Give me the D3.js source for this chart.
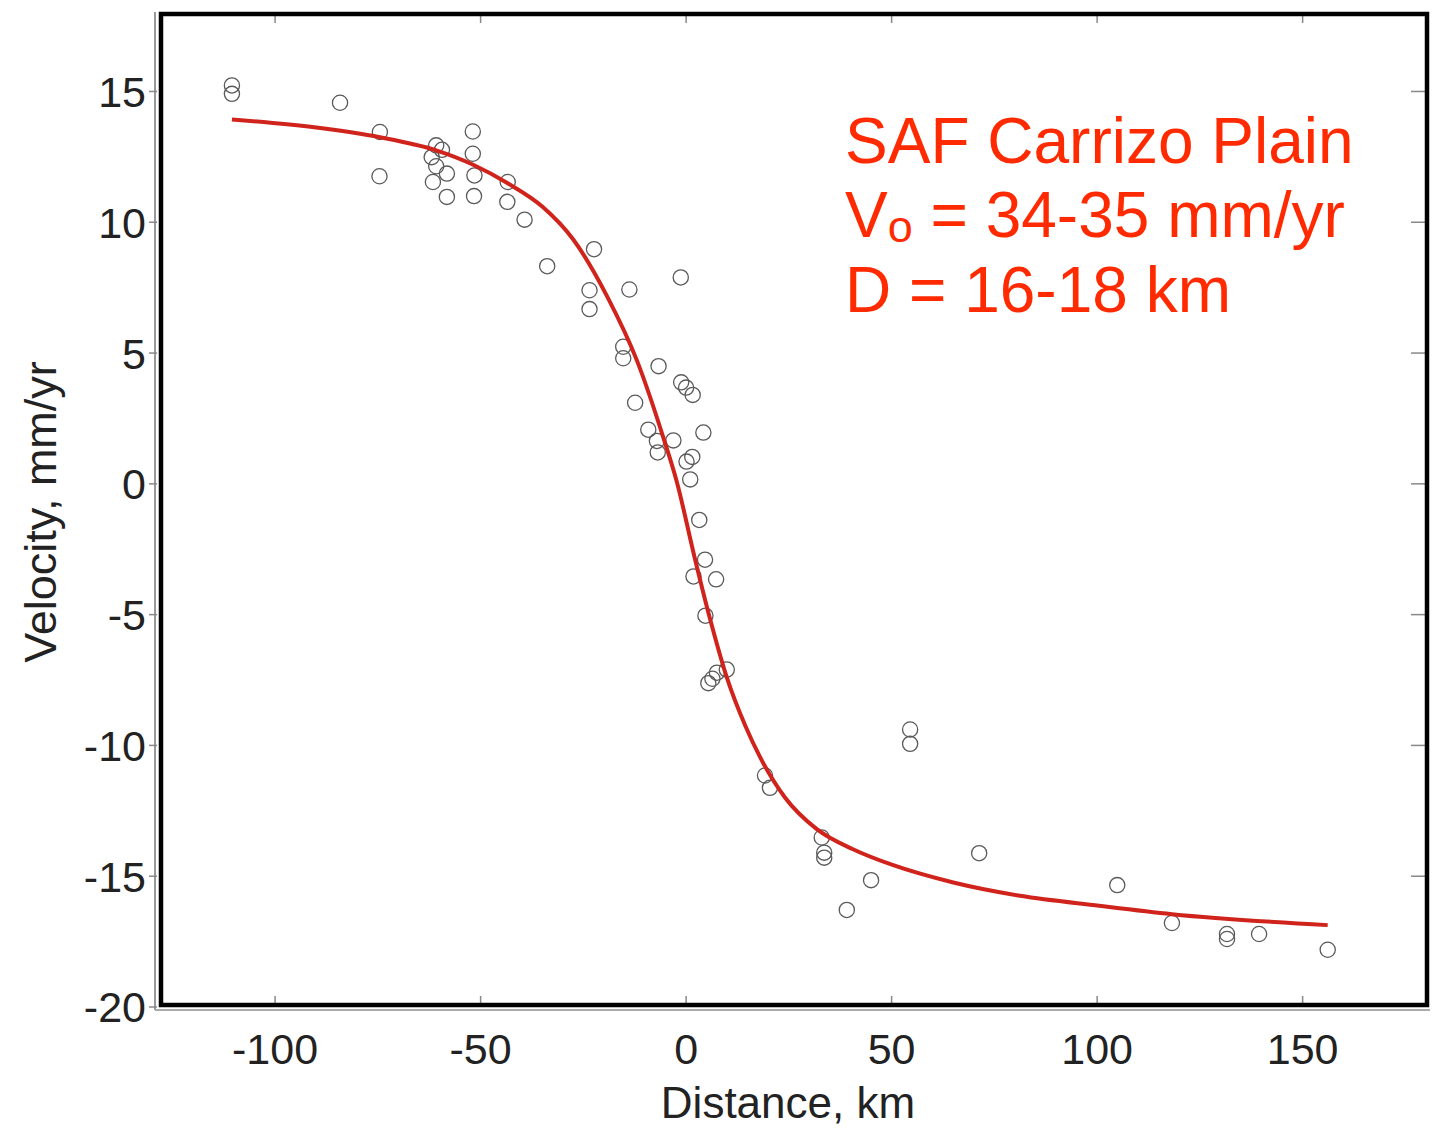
<!DOCTYPE html>
<html lang="en">
<head>
<meta charset="UTF-8">
<title>SAF Carrizo Plain velocity profile</title>
<script src="https://cdn.jsdelivr.net/npm/d3@7"></script>
<style>
  body { margin: 0; background: #fff; }
  svg text { font-family: "Liberation Sans", Arial, Helvetica, sans-serif; }
</style>
</head>
<body>
<div id="chart"></div>
<script>
// observed GPS velocities (distance from fault, km / velocity, mm/yr)
var distance = [-110.5, -110.5, -84.2, -74.5, -74.6, -60.8, -59.4, -61.9, -60.8, -58.2,
  -61.6, -58.2, -51.9, -51.9, -51.5, -51.6, -43.4, -43.5, -39.3, -33.8,
  -22.4, -23.5, -23.5, -13.8, -1.3, -15.3, -15.3, -6.7, -1.2, 0.0,
  1.6, -12.4, -9.2, -7.1, -6.9, -3.1, 4.2, 1.5, 0.1, 1.0,
  3.2, 4.6, 1.8, 7.3, 4.7, 9.9, 7.5, 6.4, 5.4,
  19.2, 20.4, 33.0, 33.6, 33.6, 39.1, 45.0, 54.5, 54.5, 71.3,
  104.9, 118.2, 131.6, 131.6, 139.4, 156.1];
var velocity = [15.23, 14.91, 14.57, 13.45, 11.76, 12.94, 12.77, 12.49, 12.14, 11.86,
  11.54, 10.97, 13.47, 12.62, 11.79, 11.0, 11.54, 10.78, 10.1, 8.32,
  8.97, 7.40, 6.68, 7.43, 7.89, 5.24, 4.80, 4.50, 3.88, 3.68,
  3.40, 3.10, 2.07, 1.64, 1.20, 1.66, 1.96, 1.03, 0.85, 0.17,
  -1.38, -2.90, -3.54, -3.65, -5.04, -7.10, -7.22, -7.45, -7.62,
  -11.15, -11.62, -13.52, -14.10, -14.29, -16.29, -15.15, -9.39, -9.94, -14.12,
  -15.34, -16.79, -17.21, -17.40, -17.21, -17.81];

// model curve
var fitX = [-110.5, -90, -74.5, -60.8, -51.8, -43.5, -35, -27.5, -19, -12,
  -5.5, -2.3, 2.2, 5.8, 9.9, 14.4, 18, 24.1, 31.8, 40.6,
  50.4, 65, 81.3, 100.5, 118.2, 156.1];
var fitV = [13.93, 13.62, 13.25, 12.75, 12.2, 11.5, 10.6, 9.35, 7.1, 4.73,
  1.75, 0.1, -2.9, -5.15, -7.4, -9.25, -10.45, -12.0, -13.2, -13.97,
  -14.58, -15.24, -15.75, -16.13, -16.45, -16.87];

var xTicks = [-100, -50, 0, 50, 100, 150];
var yTicks = [15, 10, 5, 0, -5, -10, -15, -20];
var noteLines = ["SAF Carrizo Plain", "V", "D = 16-18 km"];

var width = 1437, height = 1128;
var box = { left: 161, right: 1427, top: 14, bottom: 1005 };

var svg = d3.select("#chart").append("svg")
  .attr("width", width)
  .attr("height", height);

var x = d3.scaleLinear().domain([-128, 180.5]).range([160, 1428]);
var y = d3.scaleLinear().domain([-20, 18]).range([1007, 13]);

// outer thin gray axis lines
svg.append("line")
  .attr("x1", 155).attr("x2", 155).attr("y1", 12).attr("y2", 1010)
  .attr("stroke", "#999").attr("stroke-width", 2);
svg.append("line")
  .attr("x1", 155).attr("x2", 1430).attr("y1", 1010).attr("y2", 1010)
  .attr("stroke", "#aaa").attr("stroke-width", 2);

// tick marks
var tickG = svg.append("g").attr("stroke", "#888").attr("stroke-width", 1.5);
xTicks.forEach(function (t) {
  tickG.append("line").attr("x1", x(t)).attr("x2", x(t)).attr("y1", box.bottom).attr("y2", box.bottom - 9);
  tickG.append("line").attr("x1", x(t)).attr("x2", x(t)).attr("y1", box.top).attr("y2", box.top + 9);
});
yTicks.forEach(function (t) {
  tickG.append("line").attr("x1", 149).attr("x2", 157).attr("y1", y(t)).attr("y2", y(t));
  if (t > -20) {
    tickG.append("line").attr("x1", box.right - 16).attr("x2", box.right).attr("y1", y(t)).attr("y2", y(t));
  }
});

// tick labels
svg.append("g").selectAll("text")
  .data(yTicks)
  .join("text")
  .attr("x", 146)
  .attr("y", function (d) { return y(d); })
  .attr("dy", "0.36em")
  .attr("text-anchor", "end")
  .attr("font-size", 43)
  .attr("fill", "#222")
  .text(function (d) { return d; });

svg.append("g").selectAll("text")
  .data(xTicks)
  .join("text")
  .attr("x", function (d) { return x(d); })
  .attr("y", 1064)
  .attr("text-anchor", "middle")
  .attr("font-size", 43)
  .attr("fill", "#222")
  .text(function (d) { return d; });

// axis titles
svg.append("text")
  .attr("x", 788).attr("y", 1118)
  .attr("text-anchor", "middle")
  .attr("font-size", 44)
  .attr("fill", "#222")
  .text("Distance, km");

svg.append("text")
  .attr("transform", "translate(56,512) rotate(-90)")
  .attr("text-anchor", "middle")
  .attr("font-size", 45)
  .attr("fill", "#222")
  .text("Velocity, mm/yr");

// observed points
svg.append("g").selectAll("circle")
  .data(distance.map(function (d, i) { return [d, velocity[i]]; }))
  .join("circle")
  .attr("cx", function (d) { return x(d[0]); })
  .attr("cy", function (d) { return y(d[1]); })
  .attr("r", 7.6)
  .attr("fill", "none")
  .attr("stroke", "#5a5a5a")
  .attr("stroke-width", 1.3);

// model curve
var line = d3.line()
  .x(function (d) { return x(d[0]); })
  .y(function (d) { return y(d[1]); })
  .curve(d3.curveMonotoneX);

svg.append("path")
  .datum(fitX.map(function (d, i) { return [d, fitV[i]]; }))
  .attr("d", line)
  .attr("fill", "none")
  .attr("stroke", "#d0231c")
  .attr("stroke-width", 4);

// black frame
svg.append("rect")
  .attr("x", box.left).attr("y", box.top)
  .attr("width", box.right - box.left)
  .attr("height", box.bottom - box.top)
  .attr("fill", "none")
  .attr("stroke", "#000")
  .attr("stroke-width", 4.5);

// annotation
var red = "#ff2a00";
var note = svg.append("g").attr("fill", red).attr("font-size", 64);
note.append("text").attr("x", 845).attr("y", 163).text(noteLines[0]);
var v = note.append("text").attr("x", 845).attr("y", 237);
v.append("tspan").text(noteLines[1]);
v.append("tspan").attr("font-size", 45).attr("dy", 5).text("o");
v.append("tspan").attr("dy", -5).text(" = 34-35 mm/yr");
note.append("text").attr("x", 845).attr("y", 312).text(noteLines[2]);
</script>
</body>
</html>
